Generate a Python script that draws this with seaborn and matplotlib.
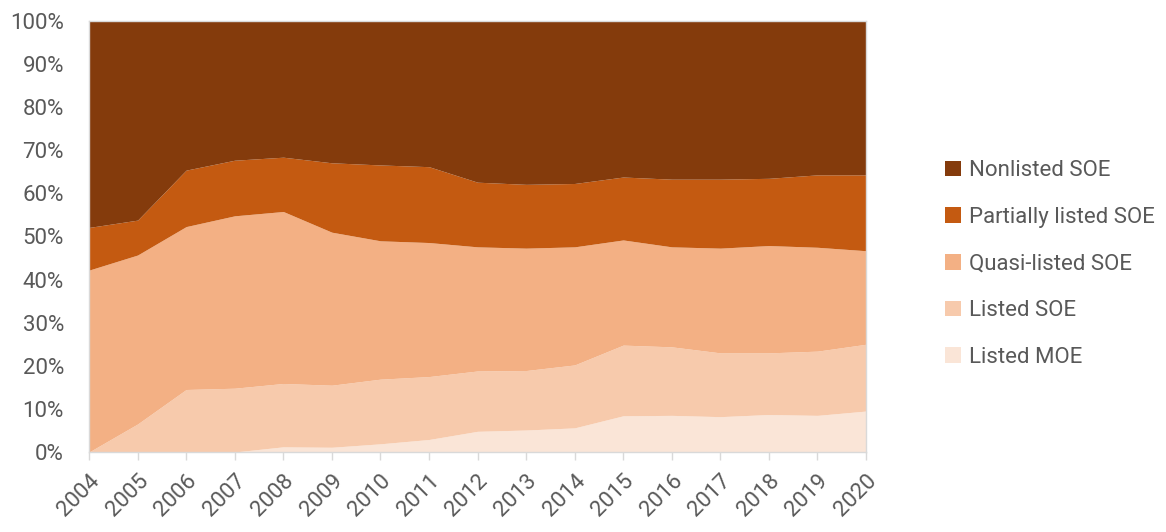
import numpy as np
import pandas as pd
import seaborn as sns
import matplotlib
matplotlib.use("Agg")
import matplotlib.pyplot as plt
from matplotlib.patches import Patch
from matplotlib.ticker import PercentFormatter

years = list(range(2004, 2021))
# cumulative tops (percent)
top_moe = [0, 0, 0, 0, 1.2, 1.1, 1.9, 2.9, 4.8, 5.1, 5.6, 8.4, 8.5, 8.2, 8.7, 8.5, 9.5]
top_listed_soe = [0, 6.5, 14.5, 14.8, 15.9, 15.5, 16.9, 17.5, 18.8, 18.9, 20.2, 24.8, 24.4, 23.0, 23.0, 23.4, 25.0]
top_quasi = [42.2, 45.7, 52.3, 54.8, 55.8, 51.0, 49.0, 48.6, 47.6, 47.3, 47.6, 49.2, 47.6, 47.3, 47.9, 47.5, 46.7]
top_partial = [52.1, 53.8, 65.4, 67.7, 68.4, 67.1, 66.6, 66.2, 62.6, 62.1, 62.3, 63.8, 63.3, 63.3, 63.5, 64.3, 64.3]

labels = ["Listed MOE", "Listed SOE", "Quasi-listed SOE", "Partially listed SOE", "Nonlisted SOE"]
colors = ["#FAE5D7", "#F7CAAC", "#F3B084", "#C45A11", "#843B0C"]

tops = np.array([top_moe, top_listed_soe, top_quasi, top_partial, [100] * len(years)])
shares = np.diff(np.vstack([np.zeros(len(years)), tops]), axis=0)
df = pd.DataFrame(shares.T, columns=labels, index=years)

sns.set_theme(style="white")
txt = "#595959"
plt.rcParams["font.family"] = ["Roboto", "DejaVu Sans"]

fig = plt.figure(figsize=(11.66, 5.32), dpi=100)
ax = fig.add_axes([89 / 1166, 1 - 452 / 532, (866 - 89) / 1166, (452 - 21) / 532])

ax.stackplot(df.index, *[df[c].values for c in labels], colors=colors, linewidth=0)

ax.set_xlim(2004, 2020)
ax.set_ylim(0, 100)
ax.set_yticks(np.arange(0, 101, 10))
ax.yaxis.set_major_formatter(PercentFormatter(decimals=0))
ax.set_xticks(years)
ax.set_xticklabels([str(y) for y in years], rotation=45, ha="right", rotation_mode="anchor")

for s in ax.spines.values():
    s.set_color("#D9D9D9")
    s.set_linewidth(1.0)

ax.tick_params(axis="y", length=0, labelsize=16, colors=txt, pad=18)
ax.tick_params(axis="x", bottom=True, length=6, color="#D9D9D9", width=1.0, labelsize=16, labelcolor=txt, pad=7)

handles = [Patch(facecolor=colors[i], edgecolor="none", label=labels[i]) for i in range(4, -1, -1)]
leg = fig.legend(handles=handles, loc="center left", bbox_to_anchor=(925 / 1166, 1 - 264 / 532),
                 frameon=False, fontsize=16, labelcolor=txt, labelspacing=1.15,
                 handlelength=0.7, handleheight=0.7, handletextpad=0.4)

fig.savefig("out.png", dpi=100)
